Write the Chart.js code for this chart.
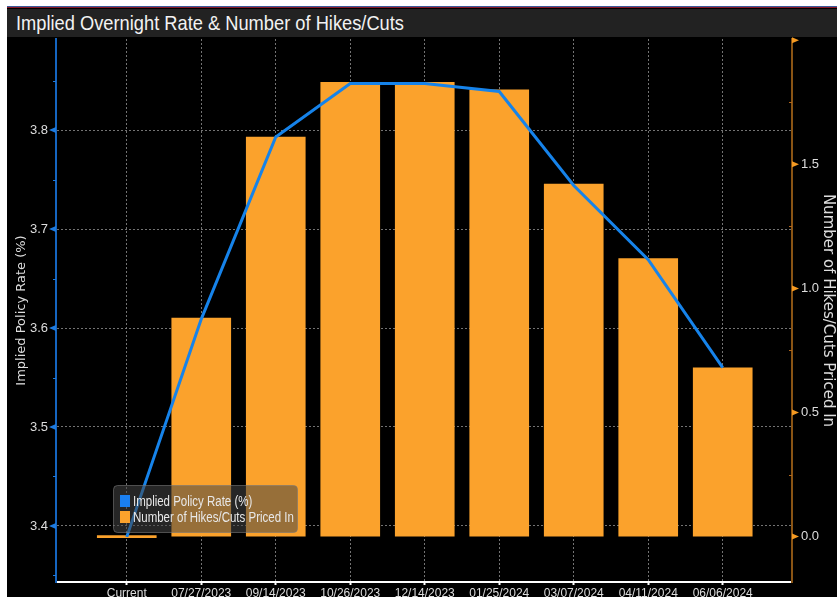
<!DOCTYPE html>
<html>
<head>
<meta charset="utf-8">
<script src="https://cdn.jsdelivr.net/npm/chart.js@4"></script>
<style>
  html, body { margin: 0; padding: 0; background: #fff; }
  body { width: 837px; height: 597px; position: relative; overflow: hidden; }
  #panel { position: absolute; left: 7px; top: 6px; width: 830px; height: 591px; background: #000;
           border-top: 1px solid #3a5a9a; }
  #redline { position: absolute; left: 0; top: 0; width: 830px; height: 1px; background: #8a1a2a; }
  #titlebar { position: absolute; left: 0; top: 2px; width: 830px; height: 28px; background: #222; overflow: hidden; }
  #title { position: absolute; left: 9px; top: 0; color: #f2f2f2; white-space: nowrap;
           font-family: 'Liberation Sans', Arial, sans-serif; font-size: 21px; line-height: 28px;
           transform-origin: 0 50%; }
  #wrap { position: absolute; left: 0; top: 30px; width: 830px; height: 561px; }
</style>
</head>
<body>
<div id="panel">
  <div id="redline"></div>
  <div id="titlebar"><span id="title">Implied Overnight Rate &amp; Number of Hikes/Cuts</span></div>
  <div id="wrap"><canvas id="chart" width="830" height="561"></canvas></div>
</div>
<script>
// Categories (meeting dates)
const dates = ['Current', '07/27/2023', '09/14/2023', '10/26/2023', '12/14/2023',
               '01/25/2024', '03/07/2024', '04/11/2024', '06/06/2024'];

// Implied policy rate (%), left axis
const impliedRate = [3.389, 3.609, 3.793, 3.847, 3.847, 3.839, 3.744, 3.669, 3.560];

// Number of hikes/cuts priced in, right axis
const hikesPriced = [0, 0.88, 1.61, 1.83, 1.83, 1.80, 1.42, 1.12, 0.68];

const FONT = "'Liberation Sans', Arial, sans-serif";
const BLUE = '#1683ea';
const ORANGE = '#fba22c';

// squeeze the title to the narrow terminal look
const t = document.getElementById('title');
t.style.transform = 'scaleX(' + (388 / t.getBoundingClientRect().width) + ')';

// little triangles / minor ticks on the axes
const axisMarks = {
    id: 'axisMarks',
    afterDraw(chart) {
        const ctx = chart.ctx;
        const yl = chart.scales.y, yr = chart.scales.y1;
        const area = chart.chartArea;
        ctx.save();
        ctx.lineWidth = 1;
        // left axis
        ctx.fillStyle = '#1e7be0';
        ctx.strokeStyle = '#1e7be0';
        yl.ticks.forEach(tk => {
            const p = yl.getPixelForValue(tk.value);
            ctx.beginPath();
            ctx.moveTo(area.left - 7, p);
            ctx.lineTo(area.left, p - 3);
            ctx.lineTo(area.left, p + 3);
            ctx.closePath();
            ctx.fill();
        });
        for (let v = 3.35; v < yl.max; v += 0.1) {
            const p = Math.round(yl.getPixelForValue(v)) + 0.5;
            ctx.beginPath();
            ctx.moveTo(area.left - 3, p);
            ctx.lineTo(area.left, p);
            ctx.stroke();
        }
        // right axis
        ctx.fillStyle = '#f59a22';
        ctx.strokeStyle = '#b0661c';
        yr.ticks.forEach(tk => {
            const p = yr.getPixelForValue(tk.value);
            ctx.beginPath();
            ctx.moveTo(area.right + 7, p);
            ctx.lineTo(area.right, p - 3);
            ctx.lineTo(area.right, p + 3);
            ctx.closePath();
            ctx.fill();
        });
        for (let v = 0.25; v < yr.max; v += 0.5) {
            const p = Math.round(yr.getPixelForValue(v)) + 0.5;
            ctx.beginPath();
            ctx.moveTo(area.right - 3, p);
            ctx.lineTo(area.right, p);
            ctx.stroke();
        }
        ctx.restore();
    }
};

// legend box sitting inside the plot
const boxLegend = {
    id: 'boxLegend',
    afterDraw(chart) {
        const ctx = chart.ctx;
        const area = chart.chartArea;
        const x = area.left + 57, y = area.bottom - 97, w = 184, h = 47;
        ctx.save();
        ctx.fillStyle = 'rgba(70,70,70,0.55)';
        ctx.strokeStyle = 'rgba(120,120,120,0.6)';
        ctx.lineWidth = 1;
        ctx.beginPath();
        ctx.roundRect(x + 0.5, y + 0.5, w, h, 4);
        ctx.fill();
        ctx.stroke();
        ctx.font = '14px ' + FONT;
        ctx.textBaseline = 'middle';
        chart.data.datasets.forEach((ds, i) => {
            const cy = y + 16 + i * 16;
            ctx.fillStyle = ds.legendColor;
            ctx.fillRect(x + 7, cy - 6, 10, 12);
            ctx.fillStyle = '#e8e8e8';
            ctx.save();
            ctx.translate(x + 20, cy + 1);
            ctx.scale(0.82, 1);
            ctx.fillText(ds.label, 0, 0);
            ctx.restore();
        });
        ctx.restore();
    }
};

const GRID = 'rgba(135,135,135,0.85)';

new Chart(document.getElementById('chart'), {
    type: 'bar',
    data: {
        datasets: [{
            type: 'line',
            label: 'Implied Policy Rate (%)',
            data: impliedRate.map((v, i) => ({ x: i, y: v })),
            yAxisID: 'y',
            borderColor: BLUE,
            legendColor: '#1a7ff0',
            borderWidth: 3,
            pointRadius: 0,
            tension: 0,
            order: 0
        }, {
            label: 'Number of Hikes/Cuts Priced In',
            data: hikesPriced.map((v, i) => ({ x: i, y: v })),
            yAxisID: 'y1',
            backgroundColor: ORANGE,
            legendColor: ORANGE,
            barThickness: 59,
            minBarLength: 2,
            order: 1
        }]
    },
    options: {
        responsive: false,
        animation: false,
        devicePixelRatio: 1,
        layout: { padding: { top: 2, left: 0, right: 0, bottom: 0 } },
        plugins: { legend: { display: false }, tooltip: { enabled: false } },
        scales: {
            x: {
                type: 'linear',
                offset: false,
                min: -0.95,
                max: 8.93,
                grid: { color: GRID, tickColor: '#ffffff', tickLength: 3, tickWidth: 2, offset: false },
                border: { color: '#ffffff', width: 2, dash: [2, 2] },
                ticks: {
                    stepSize: 1,
                    includeBounds: false,
                    autoSkip: false,
                    maxRotation: 0,
                    padding: 1,
                    color: '#dddddd',
                    font: { family: FONT, size: 12 },
                    callback: v => dates[v]
                },
                afterFit: s => { s.height = 16; s.paddingLeft = 0; s.paddingRight = 0; }
            },
            y: {
                position: 'left',
                min: 3.3434,
                max: 3.892,
                grid: { color: GRID, drawTicks: false },
                border: { color: '#1565c0', width: 2, dash: [2, 2] },
                ticks: {
                    stepSize: 0.1,
                    includeBounds: false,
                    padding: 8,
                    color: '#dddddd',
                    font: { family: FONT, size: 13 },
                    callback: v => v.toFixed(1)
                },
                title: {
                    display: true,
                    text: 'Implied Policy Rate (%)',
                    color: '#dddddd',
                    font: { family: "'DejaVu Sans', sans-serif", size: 13 },
                    padding: { top: 7, bottom: 0 }
                },
                afterFit: s => { s.width = 49; s.paddingTop = 0; s.paddingBottom = 0; }
            },
            y1: {
                position: 'right',
                min: -0.183,
                max: 2.005,
                grid: { drawOnChartArea: false, drawTicks: false },
                border: { color: '#8a5414', width: 2 },
                ticks: {
                    stepSize: 0.5,
                    includeBounds: false,
                    padding: 9,
                    color: '#dddddd',
                    font: { family: FONT, size: 13 },
                    callback: v => (v >= 2 ? '' : v.toFixed(1))
                },
                title: {
                    display: true,
                    text: 'Number of Hikes/Cuts Priced In',
                    color: '#dddddd',
                    font: { family: "'DejaVu Sans', sans-serif", size: 15 },
                    padding: { top: 0, bottom: 2 }
                },
                afterFit: s => { s.width = 45; s.paddingTop = 0; s.paddingBottom = 0; }
            }
        }
    },
    plugins: [axisMarks, boxLegend]
});
</script>
</body>
</html>
